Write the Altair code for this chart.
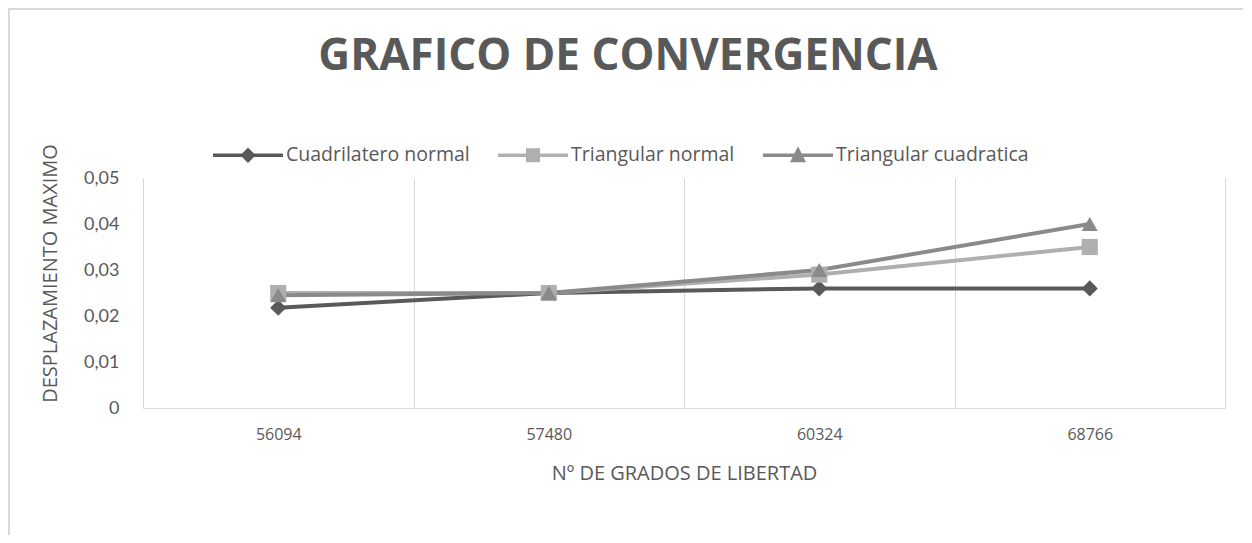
import altair as alt
import pandas as pd

categories = ["56094", "57480", "60324", "68766"]
series_names = ["Cuadrilatero normal", "Triangular normal", "Triangular cuadratica"]
cuadrilatero_normal = [0.0218, 0.025, 0.026, 0.026]
triangular_normal = [0.025, 0.025, 0.029, 0.035]
triangular_cuadratica = [0.0245, 0.025, 0.030, 0.040]
series_colors = ["#595959", "#afafaf", "#8a8a8a"]
series_markers = ["diamond", "square", "triangle-up"]
y_ticks = [0, 0.01, 0.02, 0.03, 0.04, 0.05]

# legend symbols: a line with the series marker on it
legend_line = "M-1,-0.05L1,-0.05L1,0.05L-1,0.05Z"
legend_paths = [
    legend_line + "M0,-0.22L0.22,0L0,0.22L-0.22,0Z",
    legend_line + "M-0.2,-0.2L0.2,-0.2L0.2,0.2L-0.2,0.2Z",
    legend_line + "M0,-0.26L0.23,0.2L-0.23,0.2Z",
]

rows = []
for s, vals, m in zip(series_names,
                      [cuadrilatero_normal, triangular_normal, triangular_cuadratica],
                      series_markers):
    for c, v in zip(categories, vals):
        rows.append({"grados": c, "serie": s, "desplazamiento": v, "marcador": m})
df = pd.DataFrame(rows)

GRID = "#d9d9d9"
TEXT = "#595959"
FONT = "Lato"
FONT2 = "Open Sans"

x_enc = alt.X(
    "grados:O",
    sort=categories,
    scale=alt.Scale(type="band", paddingInner=0, paddingOuter=0),
    bandPosition=0.5,
    axis=alt.Axis(
        title="Nº DE GRADOS DE LIBERTAD",
        labelAngle=0,
        labelFontSize=16,
        labelFont=FONT2,
        labelColor=TEXT,
        labelPadding=18,
        ticks=False,
        tickBand="extent",
        grid=True,
        gridColor=GRID,
        gridWidth=1,
        domain=True,
        domainColor=GRID,
        domainWidth=1,
        titleFont=FONT2,
        titleFontSize=20,
        titleFontWeight="normal",
        titleColor=TEXT,
        titleX=541,
        titleY=65,
        titleBaseline="middle",
        titleAlign="center",
    ),
)
y_enc = alt.Y(
    "desplazamiento:Q",
    scale=alt.Scale(domain=[0, 0.05], nice=False),
    axis=alt.Axis(
        title="DESPLAZAMIENTO MAXIMO",
        values=y_ticks,
        labelExpr="datum.value == 0 ? '0' : replace(format(datum.value, '.2f'), '.', ',')",
        labelFontSize=18,
        labelColor=TEXT,
        labelPadding=24,
        ticks=False,
        grid=False,
        domain=False,
        titleFont=FONT2,
        titleFontSize=20,
        titleFontWeight="normal",
        titleColor=TEXT,
        titleAngle=-90,
        titleX=-93,
        titleY=95,
        titleAlign="center",
        titleBaseline="middle",
    ),
)
color_scale = alt.Scale(domain=series_names, range=series_colors)

legend = alt.Legend(
    title=None,
    orient="none",
    legendX=70,
    legendY=-58,
    direction="horizontal",
    symbolSize=4900,
    symbolStrokeWidth=0,
    symbolOpacity=1,
    labelFontSize=19.5,
    labelColor=TEXT,
    labelFont=FONT2,
    labelOffset=3,
    labelLimit=400,
    columnPadding=28,
    padding=0,
)
legend_layer = alt.Chart(df).mark_point(filled=True, opacity=1).encode(
    x=x_enc, y=y_enc,
    color=alt.Color("serie:N", scale=color_scale, legend=legend),
    shape=alt.Shape("serie:N", scale=alt.Scale(domain=series_names, range=legend_paths), legend=legend),
).transform_filter("false")

lines = alt.Chart(df).mark_line(strokeWidth=4).encode(
    x=x_enc, y=y_enc,
    color=alt.Color("serie:N", scale=color_scale, legend=None),
)
points = alt.Chart(df).mark_point(filled=True, opacity=1, size=260).encode(
    x=x_enc, y=y_enc,
    color=alt.Color("serie:N", scale=color_scale, legend=None),
    shape=alt.Shape("marcador:N", scale=None, legend=None),
)

frame = alt.Data(values=[{}])
border_left = alt.Chart(frame).mark_rule(color=GRID, strokeWidth=2).encode(
    x=alt.value(-134), y=alt.value(-170), y2=alt.value(360))
border_top = alt.Chart(frame).mark_rule(color=GRID, strokeWidth=2).encode(
    x=alt.value(-135), x2=alt.value(1100), y=alt.value(-169))
title = alt.Chart(frame).mark_text(
    text="GRAFICO DE CONVERGENCIA",
    font=FONT2,
    fontSize=44,
    fontWeight="bold",
    color=TEXT,
    align="center",
    baseline="alphabetic",
).encode(x=alt.value(485), y=alt.value(-108))

chart = alt.layer(border_left, border_top, legend_layer, lines, points, title).properties(
    width=1082,
    height=230,
    padding={"left": 135, "top": 170, "right": 19, "bottom": 127},
    autosize=alt.AutoSizeParams(type="none"),
).configure(font=FONT).configure_view(stroke=None)

chart.save("out.html", embed_options={"renderer": "svg", "actions": False})
